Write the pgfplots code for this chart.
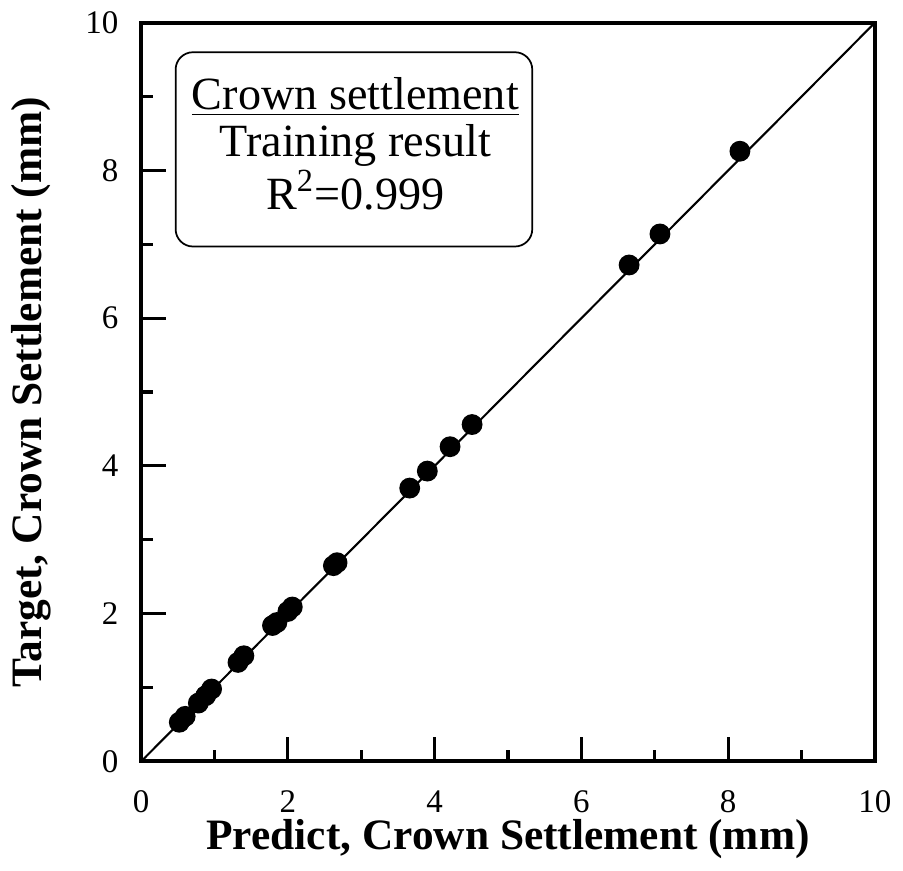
\documentclass[border=0pt]{standalone}
\usepackage{fontspec}
\setmainfont{Liberation Serif}
\usepackage{pgfplots}
\pgfplotsset{compat=1.18}
\begin{document}
\begin{tikzpicture}
\begin{axis}[
  scale only axis,
  width=7.43cm, height=7.48cm,
  xmin=0, xmax=10, ymin=0, ymax=10,
  xtick={0,2,...,10}, ytick={0,2,...,10},
  minor tick num=1,
  tick pos=left,
  tick align=inside,
  major tick length=0.25cm,
  minor tick length=0.12cm,
  every tick/.style={line width=0.9pt, black},
  axis line style={line width=1.2pt},
  /pgf/number format/assume math mode=true,
  ticklabel style={font=\fontsize{9.5}{10}\selectfont},
  xticklabel style={yshift=-5pt},
  yticklabel style={xshift=-3pt},
  xlabel={\textbf{Predict, Crown Settlement (mm)}},
  ylabel={\textbf{Target, Crown Settlement (mm)}},
  label style={font=\fontsize{12.5}{14}\selectfont},
  xlabel style={yshift=5pt},
  ylabel style={yshift=3pt},
  clip=false,
]
\addplot[black, line width=0.6pt, no marks] coordinates {(0,0) (10,10)};
\addplot[only marks, mark=*, mark size=2.8pt, black] coordinates {
(0.52,0.53) (0.60,0.61) (0.78,0.79) (0.88,0.89) (0.96,0.98)
(1.32,1.34) (1.40,1.43) (1.79,1.84) (1.85,1.88) (2.00,2.03) (2.06,2.09)
(2.62,2.65) (2.67,2.69)
(3.66,3.70) (3.90,3.93) (4.21,4.26) (4.51,4.56)
(6.65,6.72) (7.07,7.14) (8.16,8.26)
};
\draw[line width=0.5pt, rounded corners=5pt, fill=white] (axis cs:0.47,6.97) rectangle (axis cs:5.33,9.6);
\node[font=\fontsize{13.3}{13.6}\selectfont, align=center, anchor=center] at (axis cs:2.92,8.36) {%
\underline{Crown settlement}\\ Training result\\ R\textsuperscript{2}=0.999};
\end{axis}
\end{tikzpicture}
\end{document}
